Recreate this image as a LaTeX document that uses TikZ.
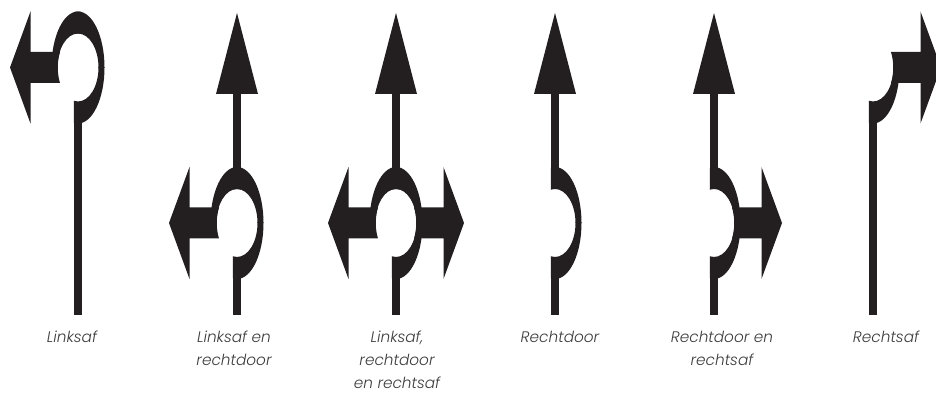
\documentclass[tikz,border=0pt]{standalone}
\usepackage{fontspec}
\setmainfont{Poppins Light}[ItalicFont={Poppins Light Italic}]
\definecolor{signblack}{HTML}{231F20}
\definecolor{labelgray}{HTML}{3C3C3C}
\tikzset{
  signpart/.style={fill=signblack},
  signlabel/.style={font=\fontsize{15.3}{23}\selectfont\itshape, text=labelgray, align=center, anchor=north, inner sep=0pt},
  pics/crescentup/.style={code={
    \begin{scope}
      \clip (-4.2,0) rectangle (30,60);
      \fill[signpart, even odd rule] (0,0) ellipse [x radius=26.5pt, y radius=56pt] (0,0) ellipse [x radius=20.5pt, y radius=34pt];
    \end{scope}
  }},
  pics/crescentdown/.style={code={
    \begin{scope}
      \clip (-4.2,0) rectangle (30,-60);
      \fill[signpart, even odd rule] (0,0) ellipse [x radius=26.5pt, y radius=56pt] (0,0) ellipse [x radius=20.5pt, y radius=34pt];
    \end{scope}
  }},
  pics/sidearrow/.style={code={
    \fill[signpart] (18,15.5) -- (47.5,15.5) -- (47.5,56) -- (68,0) -- (47.5,-56) -- (47.5,-15.5) -- (18,-15.5)
      arc [start angle=-27, end angle=27, x radius=20.5pt, y radius=34pt] -- cycle;
  }},
  pics/uparrow/.style={code={
    \fill[signpart] (-4.2,40) rectangle (4.2,135);
    \fill[signpart] (-21,129) -- (0,210) -- (21,129) -- cycle;
  }}
}
\begin{document}
\begin{tikzpicture}[x=1pt,y=1pt]
    \clip (0,0) rectangle (936,393); % page
    % stems and lower right part of every sign
    \foreach \cx/\cy in {78/325.5,237/170,396/170,555/170,714/170,873/325.5} {
        \fill[signpart] ({\cx-4.2},78) rectangle ({\cx+4.2},{\cy-40});
        \pic at (\cx,\cy) {crescentdown};
    }
    % upper right part
    \foreach \cx/\cy in {78/325.5,237/170,396/170,555/170,714/170}
        \pic at (\cx,\cy) {crescentup};
    % upper left part
    \foreach \cx/\cy in {78/325.5,237/170,396/170}
        \pic[xscale=-1] at (\cx,\cy) {crescentup};
    % straight on
    \foreach \cx in {237,396,555,714}
        \pic at (\cx,170) {uparrow};
    % left
    \foreach \cx/\cy in {78/325.5,237/170,396/170}
        \pic[xscale=-1] at (\cx,\cy) {sidearrow};
    % right
    \foreach \cx/\cy in {396/170,714/170,873/325.5}
        \pic at (\cx,\cy) {sidearrow};
    % labels
    \node[signlabel] (linksaf) at (72,62.5) {Linksaf};
    \node[signlabel] (linksafrecht) at (234,62.5) {Linksaf en\\rechtdoor};
    \node[signlabel] (linksafbeide) at (397,62.5) {Linksaf,\\rechtdoor\\en rechtsaf};
    \node[signlabel] (rechtdoor) at (560,62.5) {Rechtdoor};
    \node[signlabel] (rechtdoorsaf) at (722,62.5) {Rechtdoor en\\rechtsaf};
    \node[signlabel] (rechtsaf) at (886,62.5) {Rechtsaf};
\end{tikzpicture}
\end{document}
